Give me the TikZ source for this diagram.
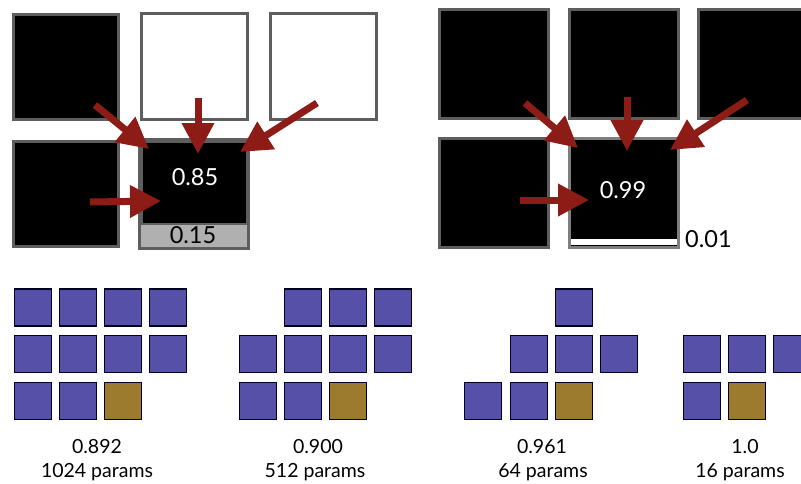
\documentclass[tikz,border=0pt]{standalone}
\usepackage{fontspec}
\setmainfont{Lato}
\usetikzlibrary{arrows.meta}
\definecolor{arrred}{HTML}{8E1C16}
\definecolor{cellblue}{HTML}{5650A8}
\definecolor{cellgold}{HTML}{9C7A2E}
\definecolor{frame}{HTML}{5E5E5E}
\definecolor{strip}{HTML}{B0B0B0}
\tikzset{
  bigcell/.style={draw=frame, line width=3pt, minimum size=#1, inner sep=0pt},
  blackcell/.style={bigcell=#1, fill=black},
  whitecell/.style={bigcell=#1, fill=white},
  arr/.style={draw=arrred, line width=7pt, -{Triangle[length=31pt,width=31pt,fill=arrred]}},
  smallcell/.style={draw=black!85!blue, line width=1.3pt, minimum size=37pt, inner sep=0pt, fill=cellblue},
  goldcell/.style={smallcell, fill=cellgold},
  lab/.style={font=\fontsize{19.5}{22}\selectfont, anchor=base, inner sep=0pt},
  val/.style={font=\fontsize{23.5}{26}\selectfont, inner sep=0pt}
}
\begin{document}
\begin{tikzpicture}[x=1pt,y=-1pt]
\useasboundingbox (0,0) rectangle (801,483);
\clip (0,0) rectangle (801,483);
% ---------- left panel ----------
\node[blackcell=105pt] (l11) at (66,66.5) {};
\node[whitecell=106pt] (l12) at (194,66.5) {};
\node[whitecell=106pt] (l13) at (323,66.5) {};
\node[blackcell=105pt] (l21) at (66,194) {};
\node[blackcell=106pt] (l22) at (194,194) {};
\fill[strip] ([xshift=1.5pt,yshift=1.5pt]l22.south west) rectangle ([xshift=-1.5pt,yshift=25pt]l22.south east);
\draw[frame, line width=3pt] (l22.south west) rectangle (l22.north east);
\draw[frame, line width=2pt] ([yshift=25pt]l22.south west) -- ([yshift=25pt]l22.south east);
\node[val, text=white] (l85) at (195,177) {0.85};
\node[val, text=black] (l15) at (193,235) {0.15};
\coordinate (la1) at (95,105);  \coordinate (lb1) at (149,149);
\coordinate (la2) at (198,98);  \coordinate (lb2) at (198,154);
\coordinate (la3) at (317,103); \coordinate (lb3) at (240,152);
\coordinate (la4) at (90,202);  \coordinate (lb4) at (161,201);
\draw[arr] (la1) -- (lb1);
\draw[arr] (la2) -- (lb2);
\draw[arr] (la3) -- (lb3);
\draw[arr] (la4) -- (lb4);
% ---------- right panel ----------
\node[blackcell=109pt] (r11) at (494,63.5) {};
\node[blackcell=109pt] (r12) at (624,63.5) {};
\node[blackcell=109pt] (r13) at (753,63.5) {};
\node[blackcell=109pt] (r21) at (494,193) {};
\node[blackcell=109pt, draw=frame!80!white] (r22) at (624,193) {};
\fill[white] ([xshift=3pt,yshift=4pt]r22.south west) rectangle ([xshift=-3pt,yshift=10pt]r22.south east);
\node[val, anchor=base west] (r01) at (685,247) {0.01};
\node[val, text=white] (r99) at (623,190) {0.99};
\coordinate (ra1) at (525,103); \coordinate (rb1) at (578,148);
\coordinate (ra2) at (627,97);  \coordinate (rb2) at (627,151);
\coordinate (ra3) at (747,100); \coordinate (rb3) at (670,150);
\coordinate (ra4) at (520,200); \coordinate (rb4) at (589,200);
\draw[arr] (ra1) -- (rb1);
\draw[arr] (ra2) -- (rb2);
\draw[arr] (ra3) -- (rb3);
\draw[arr] (ra4) -- (rb4);
% ---------- bottom grids ----------
% grid 1
\foreach \x [count=\i] in {33,78,123,168}{
  \node[smallcell] (a1\i) at (\x,307.5) {};
  \node[smallcell] (a2\i) at (\x,354) {};
}
\node[smallcell] (a31) at (33,401) {};
\node[smallcell] (a32) at (78,401) {};
\node[goldcell] (a33) at (123,401) {};
\node[lab] (ta1) at (97,453) {0.892};
\node[lab] (ta2) at (97,477) {1024 params};
% grid 2
\foreach \x [count=\i] in {303,348,393}{
  \node[smallcell] (b1\i) at (\x,307.5) {};
}
\foreach \x [count=\i] in {258,303,348,393}{
  \node[smallcell] (b2\i) at (\x,354) {};
}
\node[smallcell] (b31) at (258,401) {};
\node[smallcell] (b32) at (303,401) {};
\node[goldcell] (b33) at (348,401) {};
\node[lab] (tb1) at (318,453) {0.900};
\node[lab] (tb2) at (315,477) {512 params};
% grid 3
\node[smallcell] (c13) at (574,307.5) {};
\node[smallcell] (c22) at (529,354) {};
\node[smallcell] (c23) at (574,354) {};
\node[smallcell] (c24) at (619,354) {};
\node[smallcell] (c31) at (483,401) {};
\node[smallcell] (c32) at (529,401) {};
\node[goldcell] (c33) at (574,401) {};
\node[lab] (tc1) at (542,453) {0.961};
\node[lab] (tc2) at (543,477) {64 params};
% grid 4
\node[smallcell] (d21) at (702,354) {};
\node[smallcell] (d22) at (747,354) {};
\node[smallcell] (d23) at (792,354) {};
\node[smallcell] (d31) at (702,401) {};
\node[goldcell] (d32) at (747,401) {};
\node[lab] (td1) at (745,453) {1.0};
\node[lab] (td2) at (740,477) {16 params};
\end{tikzpicture}
\end{document}
